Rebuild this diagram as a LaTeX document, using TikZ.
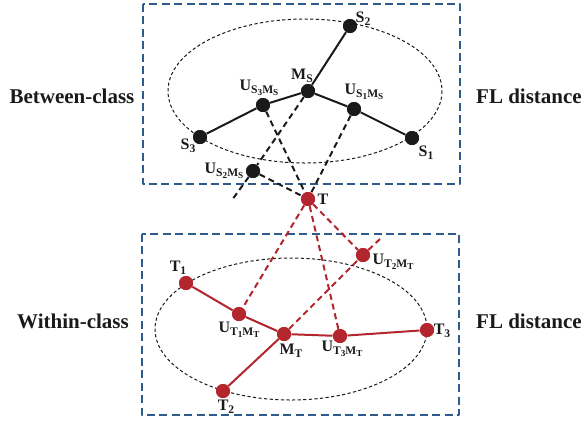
\documentclass[tikz,border=0pt]{standalone}
\usepackage{fontspec}
\setmainfont{Liberation Serif}
\usepackage{tikz}
\usetikzlibrary{positioning}
\definecolor{boxblue}{HTML}{2F5A8C}
\definecolor{dotred}{HTML}{B3262E}
\definecolor{ink}{HTML}{1A1A1A}

\newcommand{\sbs}[1]{\raisebox{-0.45ex}{\fontsize{5.8}{6}\selectfont #1}}
\newcommand{\ssbs}[1]{\raisebox{-0.35ex}{\fontsize{4.6}{5}\selectfont #1}}

\begin{document}
\begin{tikzpicture}[
    x=0.5pt, y=-0.5pt,
    line cap=butt,
    line join=round,
    classbox/.style={draw=boxblue, line width=1.3pt, dash pattern=on 4pt off 2.2pt},
    hull/.style={draw=ink, line width=0.5pt, dash pattern=on 1.6pt off 1.2pt},
    blackdot/.style={circle, fill=ink, inner sep=0pt, minimum size=7pt},
    reddot/.style={circle, fill=dotred, inner sep=0pt, minimum size=7pt},
    blackedge/.style={draw=ink, line width=1pt},
    rededge/.style={draw=dotred, line width=1pt},
    blackproj/.style={draw=ink, line width=1pt, dash pattern=on 3pt off 2pt},
    redproj/.style={draw=dotred, line width=1pt, dash pattern=on 3pt off 2pt},
    ptlabel/.style={font=\fontsize{8}{9}\selectfont\bfseries, text=ink, inner sep=0pt},
    sidelabel/.style={font=\fontsize{10.5}{12}\selectfont\bfseries, text=ink}
]
\useasboundingbox (0,0) rectangle (582,424);

% Boxes and ellipses
\draw[classbox] (143,4) rectangle (460,184);
\draw[classbox] (142,234) rectangle (459,415);
\draw[hull] (305,91) ellipse [x radius=137, y radius=72];
\draw[hull] (291,329) ellipse [x radius=136, y radius=71];

% Side labels
\node[sidelabel] (btwL) at (72,96) {Between-class};
\node[sidelabel] (btwR) at (529,96) {FL distance};
\node[sidelabel] (witL) at (73,321) {Within-class};
\node[sidelabel] (witR) at (529,321) {FL distance};

% Between-class points
\node[blackdot] (S2) at (350,26) {};
\node[blackdot] (MS) at (308,91) {};
\node[blackdot] (US3) at (263,105) {};
\node[blackdot] (US1) at (354,109) {};
\node[blackdot] (S3) at (200,137) {};
\node[blackdot] (S1) at (412,138) {};
\node[blackdot] (US2) at (253,171) {};
\node[reddot] (T) at (308,199) {};
\coordinate (extS) at (232,200);

% Within-class points
\node[reddot] (T1) at (186,283) {};
\node[reddot] (UT1) at (239,314) {};
\node[reddot] (MT) at (284,334) {};
\node[reddot] (UT3) at (340,336) {};
\node[reddot] (T3) at (427,330) {};
\node[reddot] (T2) at (223,391) {};
\node[reddot] (UT2) at (363,255) {};
\coordinate (extT) at (380,239);

% Point labels
\node[ptlabel] at (363,19) {S\sbs{2}};
\node[ptlabel] at (302,76) {M\sbs{S}};
\node[ptlabel] at (259,88) {U\sbs{S\ssbs{3}M\ssbs{S}}};
\node[ptlabel] at (364,92) {U\sbs{S\ssbs{1}M\ssbs{S}}};
\node[ptlabel] at (188,146) {S\sbs{3}};
\node[ptlabel] at (426,153) {S\sbs{1}};
\node[ptlabel] at (224,171) {U\sbs{S\ssbs{2}M\ssbs{S}}};
\node[ptlabel] at (323,199) {T};
\node[ptlabel] at (178,268) {T\sbs{1}};
\node[ptlabel] at (239,330) {U\sbs{T\ssbs{1}M\ssbs{T}}};
\node[ptlabel] at (291,351) {M\sbs{T}};
\node[ptlabel] at (342,349) {U\sbs{T\ssbs{3}M\ssbs{T}}};
\node[ptlabel] at (442,331) {T\sbs{3}};
\node[ptlabel] at (226,407) {T\sbs{2}};
\node[ptlabel] at (393,262) {U\sbs{T\ssbs{2}M\ssbs{T}}};

% Between-class edges
\draw[blackedge] (S2) -- (MS);
\draw[blackedge] (MS) -- (US3) -- (S3);
\draw[blackedge] (MS) -- (US1) -- (S1);
\draw[blackproj] (MS) -- (US2) -- (extS);
\draw[blackproj] (US2) -- (T);
\draw[blackproj] (US3) -- (T);
\draw[blackproj] (US1) -- (T);

% Within-class edges
\draw[rededge] (T1) -- (UT1) -- (MT);
\draw[rededge] (MT) -- (UT3) -- (T3);
\draw[rededge] (T2) -- (MT);
\draw[redproj] (MT) -- (UT2) -- (extT);
\draw[redproj] (T) -- (UT1);
\draw[redproj] (T) -- (UT3);
\draw[redproj] (T) -- (UT2);

% Redraw dots on top
\foreach \p in {S2,MS,US3,US1,S3,S1,US2}
  \fill[ink] (\p) circle (3.5pt);
\foreach \p in {T,T1,UT1,MT,UT3,T3,T2,UT2}
  \fill[dotred] (\p) circle (3.5pt);

\end{tikzpicture}
\end{document}
